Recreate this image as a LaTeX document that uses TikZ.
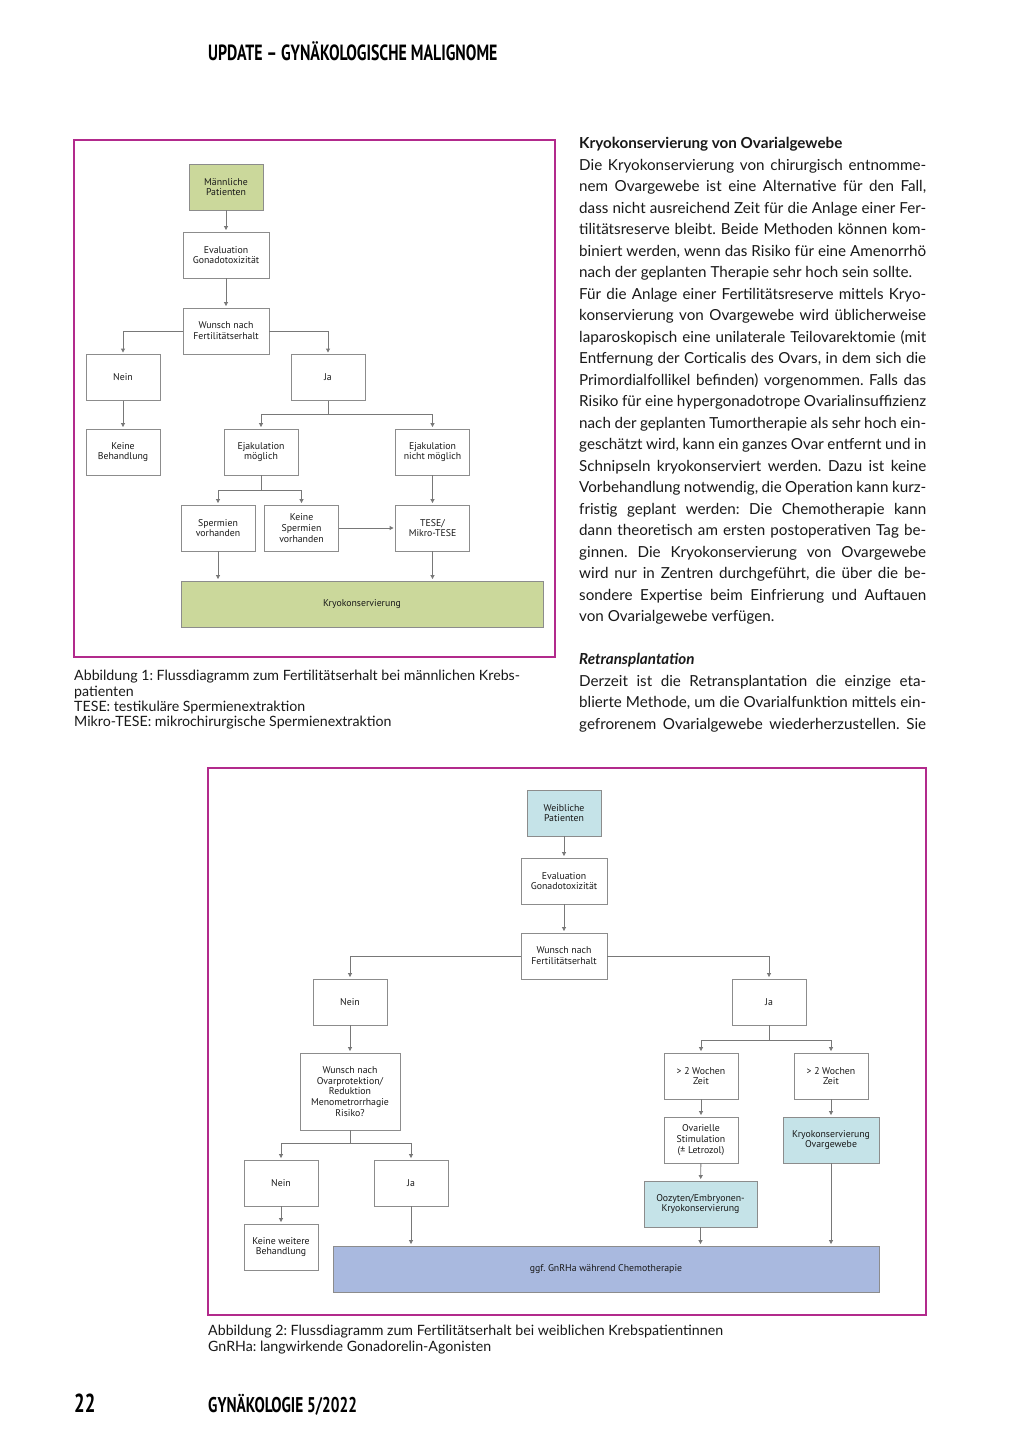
\documentclass[tikz,border=0pt]{standalone}
\usepackage{fontspec}
\setmainfont{Lato}
\newfontfamily\chartfont{PT Sans}
\newfontfamily\headfont[FakeStretch=0.72]{PT Sans}
\usetikzlibrary{arrows.meta}

\definecolor{framemag}{RGB}{178,42,140}
\definecolor{boxgray}{RGB}{140,140,140}
\definecolor{linegray}{RGB}{120,120,120}
\definecolor{mgreen}{RGB}{203,216,155}
\definecolor{fblue}{RGB}{197,227,232}
\definecolor{gblue}{RGB}{169,185,223}
\definecolor{inkblack}{RGB}{25,25,25}

\newcommand\jrow[1]{\hbox to 347pt{#1}}
\newcommand\lrow[1]{\hbox{#1}}
\frenchspacing

\tikzset{
  chartbox/.style={draw=boxgray, line width=0.9pt, fill=white, align=center, inner sep=1pt,
    minimum width=74pt, minimum height=46pt, text=inkblack,
    font=\chartfont\fontsize{9.8}{10.8}\selectfont},
  link/.style={draw=linegray, line width=0.9pt},
  arr/.style={link, -{Triangle[length=4pt,width=4pt]}, shorten >=1.5pt},
  frame/.style={draw=framemag, line width=1.6pt},
  pagetext/.style={anchor=north west, inner sep=0pt, text=inkblack},
}

\begin{document}
\begin{tikzpicture}[x=1pt,y=-1pt]
\useasboundingbox (0,0) rectangle (1024,1448);
\fill[white] (0,0) rectangle (1024,1448);

\node[anchor=base west, inner sep=0pt, font=\headfont\bfseries\fontsize{22}{22}\selectfont] (header) at (208,60) {UPDATE – GYNÄKOLOGISCHE MALIGNOME};

% Abbildung 1
\draw[frame] (74,140) rectangle (555,657);
\node[chartbox, fill=mgreen] (mpat) at (226,187) {Männliche\\Patienten};
\node[chartbox, minimum width=86pt] (meval) at (226,255) {Evaluation\\Gonadotoxizität};
\node[chartbox, minimum width=86pt] (mwunsch) at (226,331) {Wunsch nach\\Fertilitätserhalt};
\node[chartbox] (mnein) at (123,377.5) {Nein};
\node[chartbox] (mja) at (328,377.5) {Ja};
\node[chartbox] (mkeine) at (123,452) {Keine\\Behandlung};
\node[chartbox] (mejak) at (261,452) {Ejakulation\\möglich};
\node[chartbox] (mnejak) at (432.5,452) {Ejakulation\\nicht möglich};
\node[chartbox] (msperm) at (218,528) {Spermien\\vorhanden};
\node[chartbox] (mkeinesp) at (301.5,528) {Keine\\Spermien\\vorhanden};
\node[chartbox] (mtese) at (432.5,528) {TESE/\\Mikro-TESE};
\node[chartbox, fill=mgreen, minimum width=362pt] (mkryo) at (362,604) {Kryokonservierung};

\draw[arr] (mpat) -- (meval);
\draw[arr] (meval) -- (mwunsch);
\draw[arr] (mwunsch.west) -| (mnein);
\draw[arr] (mwunsch.east) -| (mja);
\draw[arr] (mnein) -- (mkeine);
\draw[link] (mja.south) -- ++(0,13) coordinate (mjasplit);
\draw[arr] (mjasplit) -| (mejak);
\draw[arr] (mjasplit) -| (mnejak);
\draw[link] (mejak.south) -- ++(0,15) coordinate (mejaksplit);
\draw[arr] (mejaksplit) -| (msperm);
\draw[arr] (mejaksplit) -| (mkeinesp);
\draw[arr] (mkeinesp) -- (mtese);
\draw[arr] (mnejak) -- (mtese);
\draw[arr] (msperm) -- (msperm |- mkryo.north);
\draw[arr] (mtese) -- (mtese |- mkryo.north);

\node[pagetext, font=\fontsize{14.2}{15.4}\selectfont] (caption1) at (74,670) {\vbox{%
\lrow{Abbildung 1: Flussdiagramm zum Fertilitätserhalt bei männlichen Krebs-}
\lrow{patienten}
\lrow{TESE: testikuläre Spermienextraktion}
\lrow{Mikro-TESE: mikrochirurgische Spermienextraktion}}};

% Spalte rechts
\node[pagetext, font=\fontsize{15.2}{21.5}\selectfont] (bodytext) at (579,137) {\vbox{%
\lrow{\bfseries Kryokonservierung von Ovarialgewebe}
\jrow{Die Kryokonservierung von chirurgisch entnomme-}
\jrow{nem Ovargewebe ist eine Alternative für den Fall,}
\jrow{dass nicht ausreichend Zeit für die Anlage einer Fer-}
\jrow{tilitätsreserve bleibt. Beide Methoden können kom-}
\jrow{biniert werden, wenn das Risiko für eine Amenorrhö}
\lrow{nach der geplanten Therapie sehr hoch sein sollte.}
\jrow{Für die Anlage einer Fertilitätsreserve mittels Kryo-}
\jrow{konservierung von Ovargewebe wird üblicherweise}
\jrow{laparoskopisch eine unilaterale Teilovarektomie (mit}
\jrow{Entfernung der Corticalis des Ovars, in dem sich die}
\jrow{Primordialfollikel befinden) vorgenommen. Falls das}
\jrow{Risiko für eine hypergonadotrope Ovarialinsuffizienz}
\jrow{nach der geplanten Tumortherapie als sehr hoch ein-}
\jrow{geschätzt wird, kann ein ganzes Ovar entfernt und in}
\jrow{Schnipseln kryokonserviert werden. Dazu ist keine}
\jrow{Vorbehandlung notwendig, die Operation kann kurz-}
\jrow{fristig geplant werden: Die Chemotherapie kann}
\jrow{dann theoretisch am ersten postoperativen Tag be-}
\jrow{ginnen. Die Kryokonservierung von Ovargewebe}
\jrow{wird nur in Zentren durchgeführt, die über die be-}
\jrow{sondere Expertise beim Einfrierung und Auftauen}
\lrow{von Ovarialgewebe verfügen.}
\lrow{}
\lrow{\bfseries\itshape Retransplantation}
\jrow{Derzeit ist die Retransplantation die einzige eta-}
\jrow{blierte Methode, um die Ovarialfunktion mittels ein-}
\jrow{gefrorenem Ovarialgewebe wiederherzustellen. Sie}}};

% Abbildung 2
\draw[frame] (208,768) rectangle (926,1315);
\node[chartbox, fill=fblue] (fpat) at (564,813) {Weibliche\\Patienten};
\node[chartbox, minimum width=86pt] (feval) at (564,881) {Evaluation\\Gonadotoxizität};
\node[chartbox, minimum width=86pt] (fwunsch) at (564,956) {Wunsch nach\\Fertilitätserhalt};
\node[chartbox] (fnein) at (350,1002) {Nein};
\node[chartbox] (fja) at (769,1002) {Ja};
\node[chartbox, minimum width=100pt, minimum height=77pt] (fovar) at (350,1091.5) {Wunsch nach\\Ovarprotektion/\\Reduktion\\Menometrorrhagie\\Risiko?};
\node[chartbox] (fnein2) at (281,1183) {Nein};
\node[chartbox] (fja2) at (411,1183) {Ja};
\node[chartbox] (fkeine) at (281,1247) {Keine weitere\\Behandlung};
\node[chartbox] (fzeitl) at (701,1076) {> 2 Wochen\\Zeit};
\node[chartbox] (fzeitr) at (831,1076) {> 2 Wochen\\Zeit};
\node[chartbox] (fstim) at (701,1140) {Ovarielle\\Stimulation\\(± Letrozol)};
\node[chartbox, fill=fblue, minimum width=96pt] (fkryoov) at (831,1140) {Kryokonservierung\\Ovargewebe};
\node[chartbox, fill=fblue, minimum width=113pt] (fooz) at (700.5,1204) {Oozyten/Embryonen-\\Kryokonservierung};
\node[chartbox, fill=gblue, minimum width=546pt] (fgnrha) at (606,1269) {ggf. GnRHa während Chemotherapie};

\draw[arr] (fpat) -- (feval);
\draw[arr] (feval) -- (fwunsch);
\draw[arr] (fwunsch.west) -| (fnein);
\draw[arr] (fwunsch.east) -| (fja);
\draw[arr] (fnein) -- (fovar);
\draw[link] (fovar.south) -- ++(0,13) coordinate (fovarsplit);
\draw[arr] (fovarsplit) -| (fnein2);
\draw[arr] (fovarsplit) -| (fja2);
\draw[arr] (fnein2) -- (fkeine);
\draw[arr] (fja2) -- (fja2 |- fgnrha.north);
\draw[link] (fja.south) -- ++(0,15) coordinate (fjasplit);
\draw[arr] (fjasplit) -| (fzeitl);
\draw[arr] (fjasplit) -| (fzeitr);
\draw[arr] (fzeitl) -- (fstim);
\draw[arr] (fstim) -- (fooz);
\draw[arr] (fooz) -- (fooz |- fgnrha.north);
\draw[arr] (fzeitr) -- (fkryoov);
\draw[arr] (fkryoov) -- (fkryoov |- fgnrha.north);

\node[pagetext, font=\fontsize{14.2}{15.4}\selectfont] (caption2) at (208,1325) {\vbox{%
\lrow{Abbildung 2: Flussdiagramm zum Fertilitätserhalt bei weiblichen Krebspatientinnen}
\lrow{GnRHa: langwirkende Gonadorelin-Agonisten}}};

\node[anchor=base west, inner sep=0pt, font=\headfont\bfseries\fontsize{26}{26}\selectfont] (pagenum) at (74,1412) {22};
\node[anchor=base west, inner sep=0pt, font=\headfont\bfseries\fontsize{21.3}{21.3}\selectfont] (footer) at (208,1412) {GYNÄKOLOGIE 5/2022};
\end{tikzpicture}
\end{document}
